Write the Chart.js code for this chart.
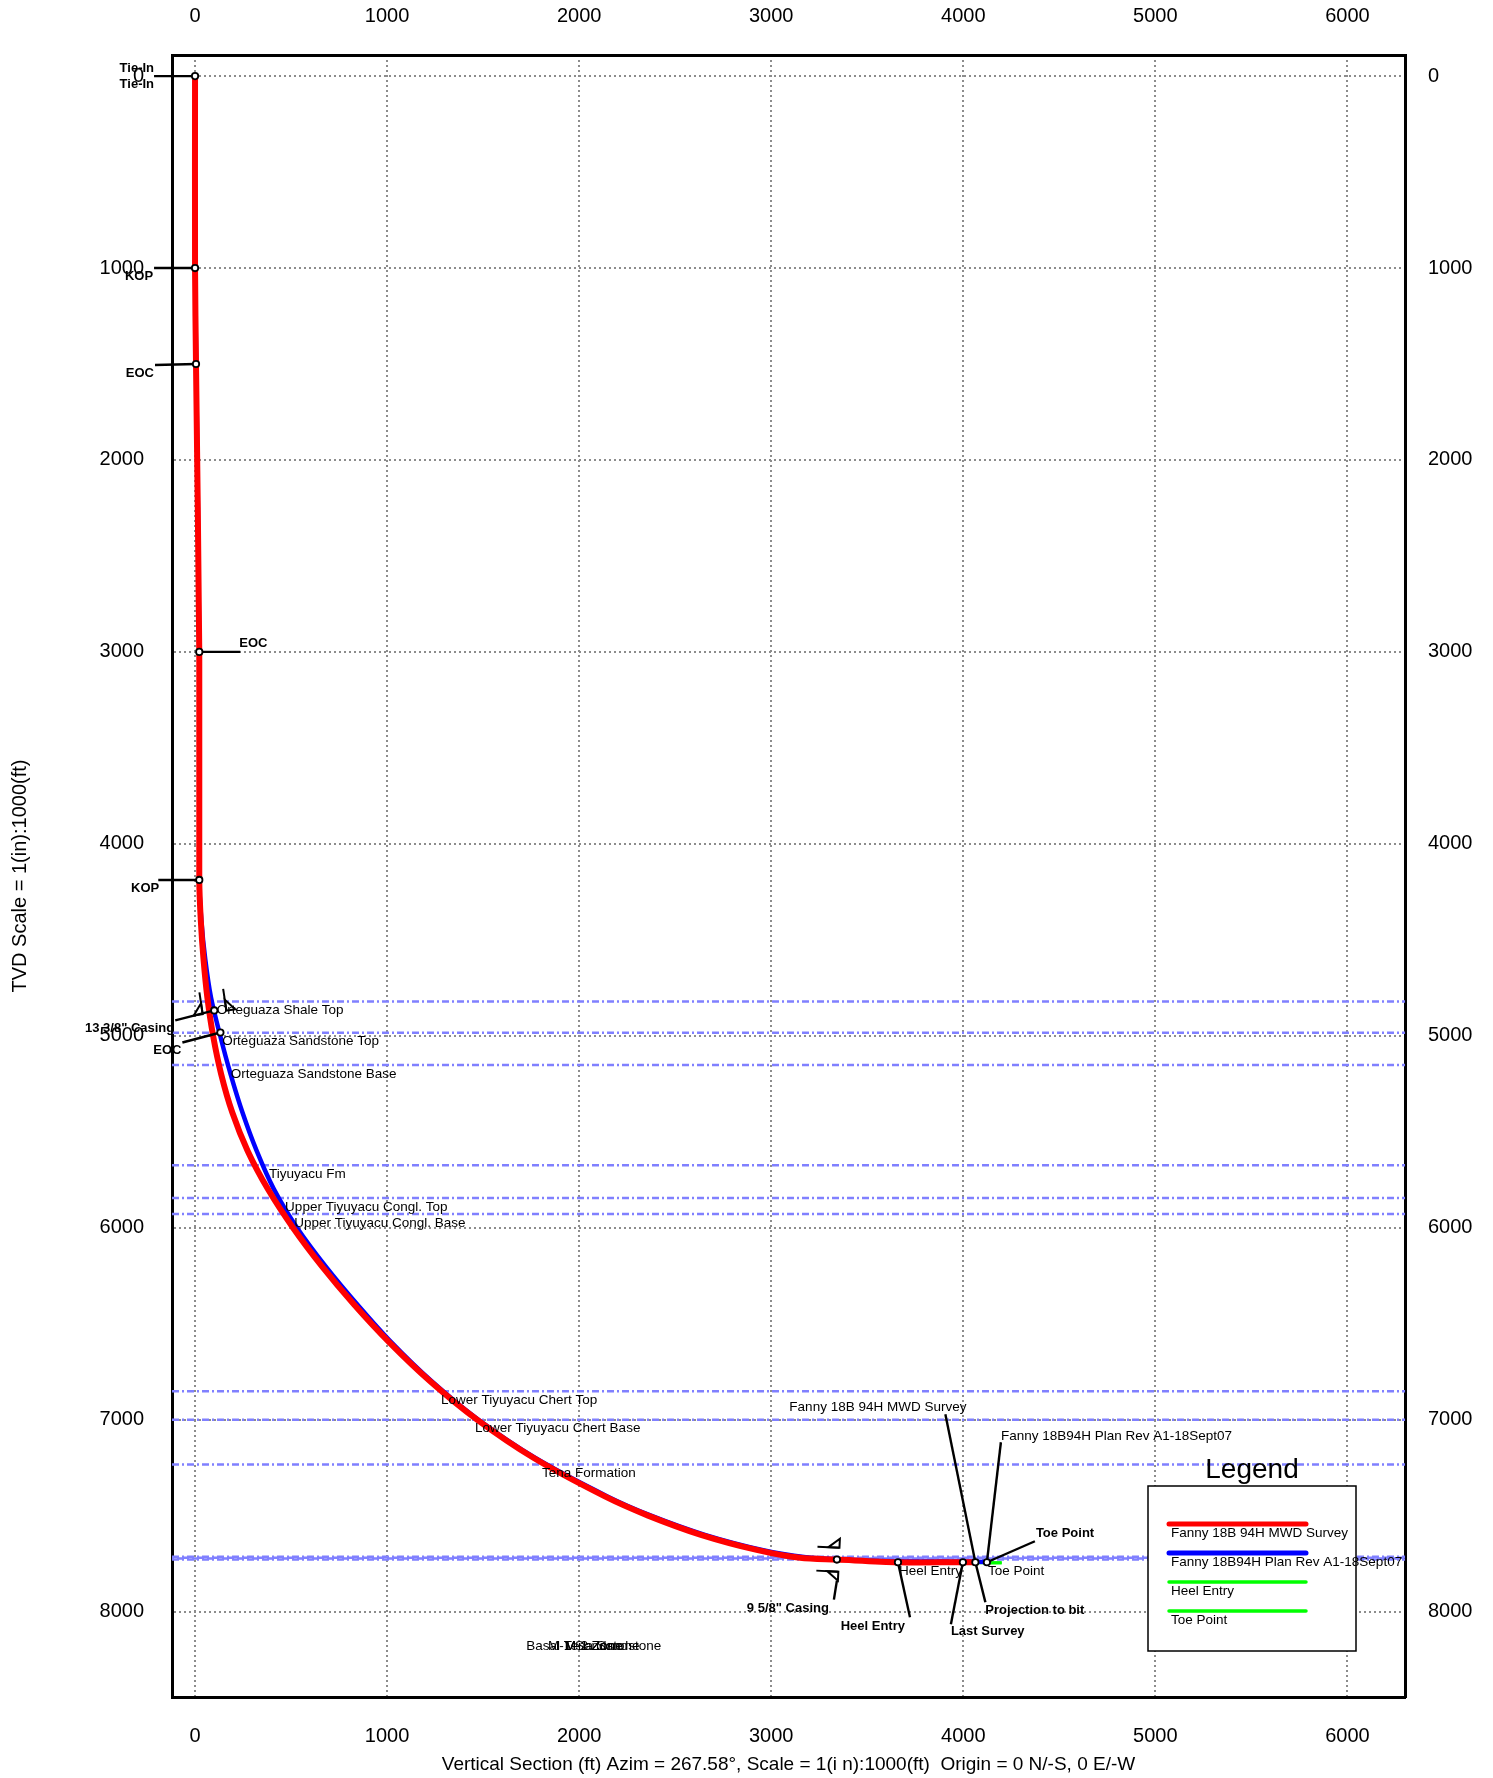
<!DOCTYPE html>
<html>
<head>
<meta charset="utf-8">
<script src="https://cdn.jsdelivr.net/npm/chart.js@4.4.1/dist/chart.umd.min.js"></script>
<style>
  html, body { margin: 0; padding: 0; background: #fff; }
  #wrap { width: 1493px; height: 1778px; }
</style>
</head>
<body>
<div id="wrap"><canvas id="chart-section" width="1493" height="1778"></canvas></div>
<script>
// axis extents and ticks (ft)
const X_MIN = -120, X_MAX = 6300;
const Y_MIN = -110, Y_MAX = 8445;
const xTicks = [0, 1000, 2000, 3000, 4000, 5000, 6000];
const yTicks = [0, 1000, 2000, 3000, 4000, 5000, 6000, 7000, 8000];

// Fanny 18B 94H MWD Survey (vertical section, TVD)
const surveyName = "Fanny 18B 94H MWD Survey";
const surveyVS  = [0, 0, 5, 22, 22, 30, 44, 64, 94, 136, 194, 274, 380, 510, 660, 828, 1014, 1224, 1468, 1764, 2134, 2359, 2634, 2930, 3150, 3342, 3660, 3998, 4063];
const surveyTVD = [0, 1000, 1500, 3000, 4188, 4400, 4600, 4800, 5000, 5200, 5400, 5600, 5800, 6000, 6200, 6400, 6600, 6800, 7000, 7200, 7400, 7500, 7600, 7680, 7720, 7729, 7743, 7743, 7743];

// Fanny 18B94H Plan Rev A1-18Sept07
const planName = "Fanny 18B94H Plan Rev A1-18Sept07";
const planVS  = [0, 0, 6, 22, 22, 33, 53, 83, 131, 185, 247, 321, 411, 531, 679, 845, 1025, 1232, 1474, 1772, 2147, 2374, 2654, 2958, 3180, 3342, 3660, 3998, 4123];
const planTVD = [0, 1000, 1500, 3000, 4188, 4400, 4600, 4800, 5000, 5200, 5400, 5600, 5800, 6000, 6200, 6400, 6600, 6800, 7000, 7200, 7400, 7500, 7600, 7680, 7717, 7728, 7738, 7740, 7741];

// targets
const heelEntryVS = [3660, 4200];
const heelEntryTVD = [7746, 7746];
const toePointVS = [4123, 4200];
const toePointTVD = [7746, 7746];

// formation tops (TVD)
const formationNames = [
  "Orteguaza Shale Top", "Orteguaza Sandstone Top", "Orteguaza Sandstone Base",
  "Tiyuyacu Fm", "Upper Tiyuyacu Congl. Top", "Upper Tiyuyacu Congl. Base",
  "Lower Tiyuyacu Chert Top", "Lower Tiyuyacu Chert Base", "Tena Formation",
  "Basal Tena Sandstone", "M-1 Zone", "M-1 Sandstone", "M-2 Zone"
];
const formationTVD = [4821, 4984, 5152, 5675, 5845, 5929, 6852, 7000, 7234, 7714, 7719, 7723, 7728];

// survey annotations
const markerNames = ["Tie-In", "KOP", "EOC", "EOC", "KOP", "13 3/8\" Casing", "EOC", "9 5/8\" Casing", "Heel Entry", "Last Survey", "Projection to bit", "Toe Point"];
const markerVS  = [0, 0, 5, 22, 22, 100, 132, 3342, 3660, 3998, 4063, 4123];
const markerTVD = [0, 1000, 1500, 3000, 4188, 4868, 4983, 7729, 7743, 7743, 7743, 7743];

// ---- layout (pixels / placement only) ----
const FONT = '"Liberation Sans", Arial, Helvetica, sans-serif';
Chart.defaults.font.family = FONT;
Chart.defaults.color = "#000";

// label left edge (ft) for the formation names; the last ones are centred low in the plot
const formationLabelVS = [113, 141, 186, 385, 469, 516, 1280, 1458, 1806];
const bandLabelAt = { vs: 2076, tvd: 8182 };

// leader [x1,y1,x2,y2] and text [dx,dy,align] offsets in px from each marker
const annotationLayout = [
  { at: 0, line: [0, 0, -41, 0], text: [[-41, -8, "right"], [-41, 8, "right"]] },
  { at: 1, line: [0, 0, -41, 0], text: [[-42, 8, "right"]] },
  { at: 2, line: [0, 0, -41, 1], text: [[-42, 9, "right"]] },
  { at: 3, line: [0, 0, 41, 0], text: [[40, -8, "left"]] },
  { at: 4, line: [0, 0, -41, 0], text: [[-40, 8, "right"]] },
  { at: 5, line: [0, 0, -39, 10], text: [[-40, 18, "right"]] },
  { at: 6, line: [0, 0, -38, 10], text: [[-39, 18, "right"]] },
  { at: 7, line: [0, 21, -3, 40], text: [[-8, 49, "right"]] },
  { at: 8, line: [0, 0, 12, 55], text: [[7, 64, "right"]] },
  { at: 9, line: [0, 0, -12, 62], text: [[-12, 69, "left"]] },
  { at: 10, line: [0, 0, 10, 40], text: [[10, 48, "left"]] },
  { at: 11, line: [0, 0, 48, -21], text: [[49, -29, "left"]] },
];
const wellLabelLayout = [
  { label: surveyName, at: 10, line: [0, 0, -30, -148], text: [-186, -155, "left"] },
  { label: planName, at: 11, line: [0, 0, 14, -120], text: [14, -126, "left"] },
  { label: "Heel Entry", at: 8, text: [1, 9, "left"] },
  { label: "Toe Point", at: 11, text: [1, 9, "left"] },
];
const casingMarkers = [5, 7];

function toPoints(xs, ys) {
  return xs.map((x, i) => ({ x, y: ys[i] }));
}

const formationDatasets = formationTVD.map((d, i) => ({
  label: formationNames[i],
  data: [{ x: X_MIN, y: d }, { x: X_MAX, y: d }],
  showLine: true,
  borderColor: "#8080ff",
  borderWidth: 2.5,
  borderDash: [7, 3, 2, 3],
  borderDashOffset: i >= 9 ? (i - 9) * 5 : 0,
  pointRadius: 0,
  order: 5,
}));

const datasets = [
  {
    id: "markers",
    label: "markers",
    data: toPoints(markerVS, markerTVD),
    pointRadius: 3.2,
    pointBackgroundColor: "#fff",
    pointBorderColor: "#000",
    pointBorderWidth: 1.8,
    order: 0,
  },
  {
    label: surveyName,
    data: toPoints(surveyVS, surveyTVD),
    showLine: true,
    borderColor: "#ff0000",
    borderWidth: 6,
    tension: 0.3,
    pointRadius: 0,
    borderCapStyle: "round",
    order: 1,
    legendWidth: 5,
  },
  {
    label: planName,
    data: toPoints(planVS, planTVD),
    showLine: true,
    borderColor: "#0000ff",
    borderWidth: 4.5,
    tension: 0.3,
    pointRadius: 0,
    order: 2,
    legendWidth: 5,
  },
  {
    label: "Heel Entry",
    data: toPoints(heelEntryVS, heelEntryTVD),
    showLine: true,
    borderColor: "#00ff00",
    borderWidth: 3,
    pointRadius: 0,
    order: 3,
    legendWidth: 3.5,
  },
  {
    label: "Toe Point",
    data: toPoints(toePointVS, toePointTVD),
    showLine: true,
    borderColor: "#00ff00",
    borderWidth: 3,
    pointRadius: 0,
    order: 3,
    legendWidth: 3.5,
  },
  ...formationDatasets,
];

function markerPx(chart, i) {
  return [chart.scales.x.getPixelForValue(markerVS[i]), chart.scales.y.getPixelForValue(markerTVD[i])];
}

function drawLeaders(chart) {
  const ctx = chart.ctx;
  ctx.save();
  ctx.strokeStyle = "#000";
  ctx.lineWidth = 2.4;
  const all = annotationLayout.concat(wellLabelLayout.filter((w) => w.line));
  all.forEach((a) => {
    const [px, py] = markerPx(chart, a.at);
    ctx.beginPath();
    ctx.moveTo(px + a.line[0], py + a.line[1]);
    ctx.lineTo(px + a.line[2], py + a.line[3]);
    ctx.stroke();
  });
  ctx.restore();
}

function drawCasingShoes(chart) {
  const ctx = chart.ctx;
  const sx = chart.scales.x, sy = chart.scales.y;
  ctx.save();
  ctx.strokeStyle = "#000";
  ctx.lineWidth = 2;
  casingMarkers.forEach((m) => {
    let k = 1;
    while (k < surveyTVD.length - 1 && surveyTVD[k] < markerTVD[m]) k++;
    const ax = sx.getPixelForValue(surveyVS[k - 1]), ay = sy.getPixelForValue(surveyTVD[k - 1]);
    const bx = sx.getPixelForValue(surveyVS[k]), by = sy.getPixelForValue(surveyTVD[k]);
    const len = Math.hypot(bx - ax, by - ay) || 1;
    const d = [(bx - ax) / len, (by - ay) / len];
    const n = [-d[1], d[0]];
    const [cx, cy] = markerPx(chart, m);
    const P = (u, v) => [cx + d[0] * u + n[0] * v, cy + d[1] * u + n[1] * v];
    [-1, 1].forEach((s) => {
      ctx.beginPath();
      ctx.moveTo(...P(-20, 12 * s));
      ctx.lineTo(...P(2, 12 * s));
      ctx.stroke();
      ctx.beginPath();
      ctx.moveTo(...P(-9, 12 * s));
      ctx.lineTo(...P(2, 21 * s));
      ctx.lineTo(...P(2, 12 * s));
      ctx.closePath();
      ctx.stroke();
    });
  });
  ctx.restore();
}

function drawFormationLabels(chart) {
  const ctx = chart.ctx;
  const sx = chart.scales.x, sy = chart.scales.y;
  ctx.save();
  ctx.fillStyle = "#000";
  ctx.font = "13.5px " + FONT;
  ctx.textBaseline = "middle";
  formationNames.forEach((name, i) => {
    if (i < formationLabelVS.length) {
      ctx.textAlign = "left";
      ctx.fillText(name, sx.getPixelForValue(formationLabelVS[i]), sy.getPixelForValue(formationTVD[i]) + 9);
    } else {
      ctx.textAlign = "center";
      ctx.fillText(name, sx.getPixelForValue(bandLabelAt.vs), sy.getPixelForValue(bandLabelAt.tvd));
    }
  });
  ctx.restore();
}

function drawAnnotationText(chart) {
  const ctx = chart.ctx;
  ctx.save();
  ctx.fillStyle = "#000";
  ctx.textBaseline = "middle";
  ctx.font = "bold 13px " + FONT;
  annotationLayout.forEach((a) => {
    const [px, py] = markerPx(chart, a.at);
    a.text.forEach(([dx, dy, align]) => {
      ctx.textAlign = align;
      ctx.fillText(markerNames[a.at], px + dx, py + dy);
    });
  });
  ctx.font = "13.5px " + FONT;
  wellLabelLayout.forEach((w) => {
    const [px, py] = markerPx(chart, w.at);
    ctx.textAlign = w.text[2];
    ctx.fillText(w.label, px + w.text[0], py + w.text[1]);
  });
  ctx.restore();
}

function drawLegendBox(chart) {
  const ctx = chart.ctx;
  const area = chart.chartArea;
  const bx = area.right - 257, by = area.bottom - 211, bw = 208, bh = 165;
  ctx.save();
  ctx.fillStyle = "#fff";
  ctx.fillRect(bx, by, bw, bh);
  ctx.strokeStyle = "#000";
  ctx.lineWidth = 1.5;
  ctx.strokeRect(bx, by, bw, bh);
  ctx.fillStyle = "#000";
  ctx.font = "28px " + FONT;
  ctx.textAlign = "center";
  ctx.textBaseline = "middle";
  ctx.fillText("Legend", bx + bw / 2, by - 16);
  const entries = chart.data.datasets.filter((ds) => ds.legendWidth);
  ctx.font = "13.5px " + FONT;
  ctx.textAlign = "left";
  entries.forEach((ds, i) => {
    const y = by + 38 + i * 29;
    ctx.strokeStyle = ds.borderColor;
    ctx.lineWidth = ds.legendWidth;
    ctx.lineCap = "round";
    ctx.beginPath();
    ctx.moveTo(bx + 21, y);
    ctx.lineTo(bx + 158, y);
    ctx.stroke();
    ctx.fillText(ds.label, bx + 23, y + 9);
  });
  ctx.restore();
}

const sectionOverlay = {
  id: "sectionOverlay",
  beforeDatasetDraw(chart, args) {
    if (chart.data.datasets[args.index].id !== "markers") return;
    drawLeaders(chart);
    drawCasingShoes(chart);
  },
  afterDatasetsDraw(chart) {
    drawFormationLabels(chart);
    drawAnnotationText(chart);
    drawLegendBox(chart);
  },
};

const tickFont = { size: 20 };
const axisBorder = { display: true, color: "#000", width: 3, dash: [2, 3] };
const plainTick = (v) => String(v);

function xAxis(position, height, withGrid) {
  return {
    type: "linear",
    position,
    min: X_MIN,
    max: X_MAX,
    afterBuildTicks: (s) => { s.ticks = xTicks.map((v) => ({ value: v })); },
    afterFit: (s) => { s.height = height; },
    ticks: { font: tickFont, padding: 27, color: "#000", maxRotation: 0, callback: plainTick },
    grid: { drawTicks: false, drawOnChartArea: withGrid, color: "#8c8c8c", lineWidth: 2 },
    border: axisBorder,
  };
}

function yAxis(position, width, withGrid, padding) {
  return {
    type: "linear",
    position,
    reverse: true,
    min: Y_MIN,
    max: Y_MAX,
    afterBuildTicks: (s) => { s.ticks = yTicks.map((v) => ({ value: v })); },
    afterFit: (s) => { s.width = width; },
    ticks: { font: tickFont, padding, color: "#000", callback: plainTick },
    grid: { drawTicks: false, drawOnChartArea: withGrid, color: "#8c8c8c", lineWidth: 2 },
    border: axisBorder,
  };
}

const scales = {
  x: xAxis("bottom", 81, true),
  x2: xAxis("top", 55, false),
  y: yAxis("left", 172, true, 28),
  y2: yAxis("right", 88, false, 23),
};
scales.x.title = {
  display: true,
  text: "Vertical Section (ft) Azim = 267.58°, Scale = 1(i n):1000(ft)  Origin = 0 N/-S, 0 E/-W",
  font: { size: 19 },
  color: "#000",
  padding: { top: 0, bottom: 2 },
};
scales.y.title = {
  display: true,
  text: "TVD Scale = 1(in):1000(ft)",
  font: { size: 20 },
  color: "#000",
  padding: { top: 8, bottom: 0 },
};

new Chart(document.getElementById("chart-section"), {
  type: "scatter",
  data: { datasets },
  options: {
    responsive: false,
    animation: false,
    devicePixelRatio: 1,
    layout: { padding: 0 },
    plugins: { legend: { display: false }, tooltip: { enabled: false } },
    scales,
  },
  plugins: [sectionOverlay],
});
</script>
</body>
</html>
